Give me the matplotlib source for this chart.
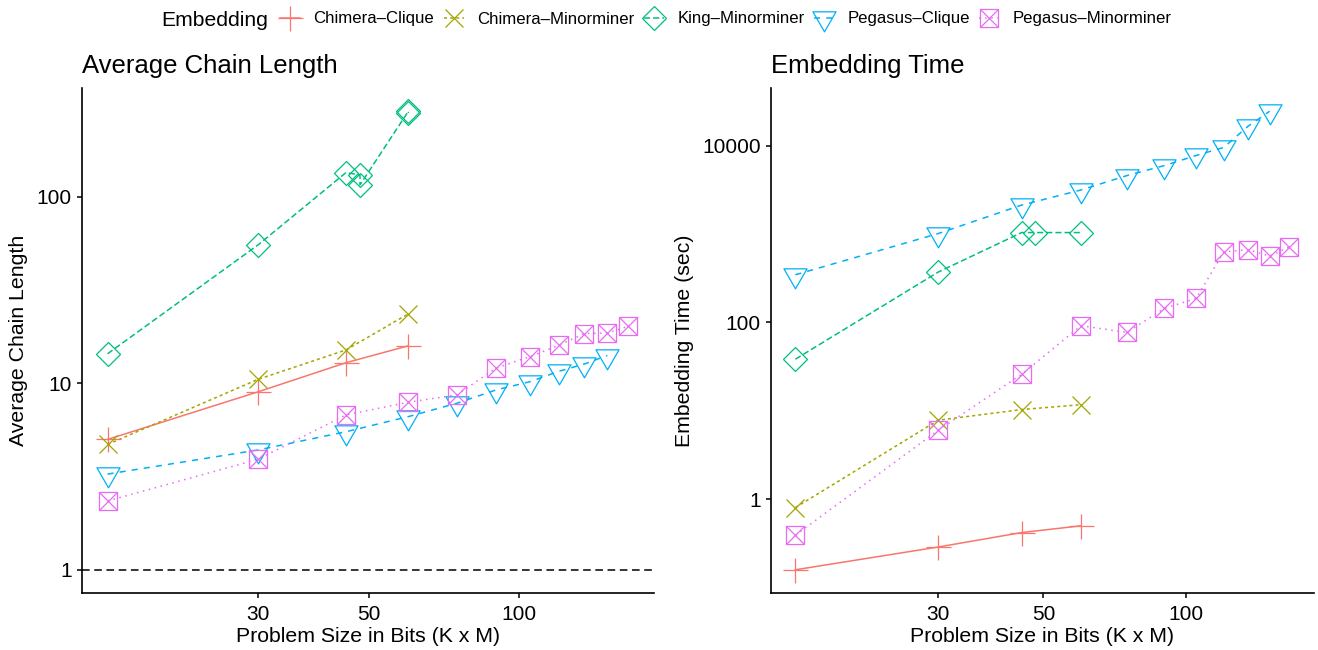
import numpy as np
import matplotlib.pyplot as plt
from matplotlib.path import Path
from matplotlib.lines import Line2D
from matplotlib.ticker import FixedLocator, NullLocator

plt.rcParams['font.family'] = ['Liberation Sans', 'DejaVu Sans']

# ---- data ----
embeddings = ['Chimera\u2013Clique', 'Chimera\u2013Minorminer', 'King\u2013Minorminer',
              'Pegasus\u2013Clique', 'Pegasus\u2013Minorminer']

size_chimera = [15, 30, 45, 60]
size_king_acl = [15, 30, 45, 48, 48, 60, 60]
size_king_time = [15, 30, 45, 48, 60]
size_peg_clique = [15, 30, 45, 60, 75, 90, 105, 120, 135, 150]
size_peg_minor = [15, 30, 45, 60, 75, 90, 105, 120, 135, 150, 165]

acl_chimera_clique = [5.0, 9.0, 12.9, 15.9]
acl_chimera_minor = [4.7, 10.5, 15.1, 23.6]
acl_king_minor = [14.4, 55.2, 135, 131, 116, 288, 282]
acl_peg_clique = [3.26, 4.39, 5.5, 6.63, 7.82, 9.23, 10.2, 11.6, 12.7, 14.1]
acl_peg_minor = [2.34, 3.91, 6.77, 7.92, 8.67, 12.1, 13.9, 16.0, 18.5, 18.6, 20.2]

time_chimera_clique = [0.158, 0.286, 0.417, 0.497]
time_chimera_minor = [0.80, 7.8, 10.3, 11.7]
time_king_minor = [38.3, 371, 1040, 1040, 1040]
time_peg_clique = [346, 1013, 2129, 3155, 4594, 5970, 7762, 9575, 16600, 24600]
time_peg_minor = [0.389, 6.0, 25.8, 91.7, 76.9, 144, 187, 627, 666, 564, 714]

x_ticks = [30, 50, 100]
acl_ticks = [1, 10, 100]
time_ticks = [1, 100, 10000]

# ---- styles ----
colors = ['#F8766D', '#A3A500', '#00BF7D', '#00B0F6', '#E76BF3']
linestyles = ['solid', (0, (2, 2)), (0, (4, 2)), (0, (4, 4)), (0, (1, 3))]

tri_down = Path([(0, -1), (-0.866, 0.5), (0.866, 0.5), (0, -1)],
                [Path.MOVETO, Path.LINETO, Path.LINETO, Path.CLOSEPOLY])
sq_cross = Path([(-1, -1), (1, -1), (1, 1), (-1, 1), (-1, -1),
                 (-1, -1), (1, 1), (-1, 1), (1, -1)],
                [Path.MOVETO, Path.LINETO, Path.LINETO, Path.LINETO, Path.CLOSEPOLY,
                 Path.MOVETO, Path.LINETO, Path.MOVETO, Path.LINETO])
markers = ['+', 'x', 'D', tri_down, sq_cross]
msizes = [18, 13, 12.7, 19.2, 13]

LW = 1.1
MEW = 0.9


def log_limits(vals):
    lo, hi = np.log10(min(vals)), np.log10(max(vals))
    pad = 0.05 * (hi - lo)
    return 10 ** (lo - pad), 10 ** (hi + pad)


W, H = 1318, 650
fig = plt.figure(figsize=(W / 100, H / 100), dpi=100)


def px_axes(x0, x1, y0, y1):
    return fig.add_axes([x0 / W, 1 - y1 / H, (x1 - x0) / W, (y1 - y0) / H])


ax1 = px_axes(81.5, 654, 88.3, 592.7)
ax2 = px_axes(770.7, 1314, 88.3, 592.7)

panels = [
    (ax1,
     [(size_chimera, acl_chimera_clique), (size_chimera, acl_chimera_minor),
      (size_king_acl, acl_king_minor), (size_peg_clique, acl_peg_clique),
      (size_peg_minor, acl_peg_minor)],
     'Average Chain Length', 'Average Chain Length', acl_ticks),
    (ax2,
     [(size_chimera, time_chimera_clique), (size_chimera, time_chimera_minor),
      (size_king_time, time_king_minor), (size_peg_clique, time_peg_clique),
      (size_peg_minor, time_peg_minor)],
     'Embedding Time', 'Embedding Time (sec)', time_ticks),
]

all_sizes = size_chimera + size_king_acl + size_peg_clique + size_peg_minor

for ax, series, title, ylabel, yticks in panels:
    ax.set_xscale('log')
    ax.set_yscale('log')
    for (x, y), c, ls in zip(series, colors, linestyles):
        ax.plot(x, y, color=c, linestyle=ls, linewidth=LW, zorder=2)
    for (x, y), c, m, ms in zip(series, colors, markers, msizes):
        ax.plot(x, y, linestyle='none', marker=m, markersize=ms, markerfacecolor='none',
                markeredgecolor=c, markeredgewidth=MEW, zorder=3)

    yvals = [v for _, y in series for v in y]
    if ax is ax1:
        ax.axhline(1, color='black', linewidth=LW, linestyle=(0, (5, 3)), zorder=1)
        yvals = yvals + [1]
    ax.set_xlim(*log_limits(all_sizes))
    ax.set_ylim(*log_limits(yvals))

    ax.xaxis.set_major_locator(FixedLocator(x_ticks))
    ax.xaxis.set_minor_locator(NullLocator())
    ax.set_xticklabels([str(t) for t in x_ticks])
    ax.yaxis.set_major_locator(FixedLocator(yticks))
    ax.yaxis.set_minor_locator(NullLocator())
    ax.set_yticklabels([str(t) for t in yticks])

    for s in ['top', 'right']:
        ax.spines[s].set_visible(False)
    for s in ['left', 'bottom']:
        ax.spines[s].set_linewidth(1.2)
        ax.spines[s].set_color('black')
    ax.tick_params(axis='both', length=3.6, width=1.1, color='black',
                   labelsize=15, labelcolor='black')
    ax.tick_params(axis='x', pad=5)
    ax.tick_params(axis='y', pad=3.5)

    ax.set_title(title, loc='left', fontsize=18.5, pad=11)
    ax.set_xlabel('Problem Size in Bits (K x M)', fontsize=15.3, labelpad=2.5)
    ax.set_ylabel(ylabel, fontsize=15.3, labelpad=6)

# ---- legend on top ----
handles = [Line2D([], [], color=c, linestyle=ls, linewidth=LW, marker=m, markersize=ms,
                  markerfacecolor='none', markeredgecolor=c, markeredgewidth=MEW)
           for c, ls, m, ms in zip(colors, linestyles, markers, msizes)]
fig.text(161.7 / W, 1 - 26 / H, 'Embedding', fontsize=15.2, va='baseline', ha='left')
fig.legend(handles, embeddings, loc='center left', bbox_to_anchor=(280 / W, 1 - 19 / H),
           ncol=5, frameon=False, fontsize=12.1, handlelength=1.2, handletextpad=0.8,
           columnspacing=0.55, borderpad=0, borderaxespad=0)

fig.savefig('out.png', dpi=100)
